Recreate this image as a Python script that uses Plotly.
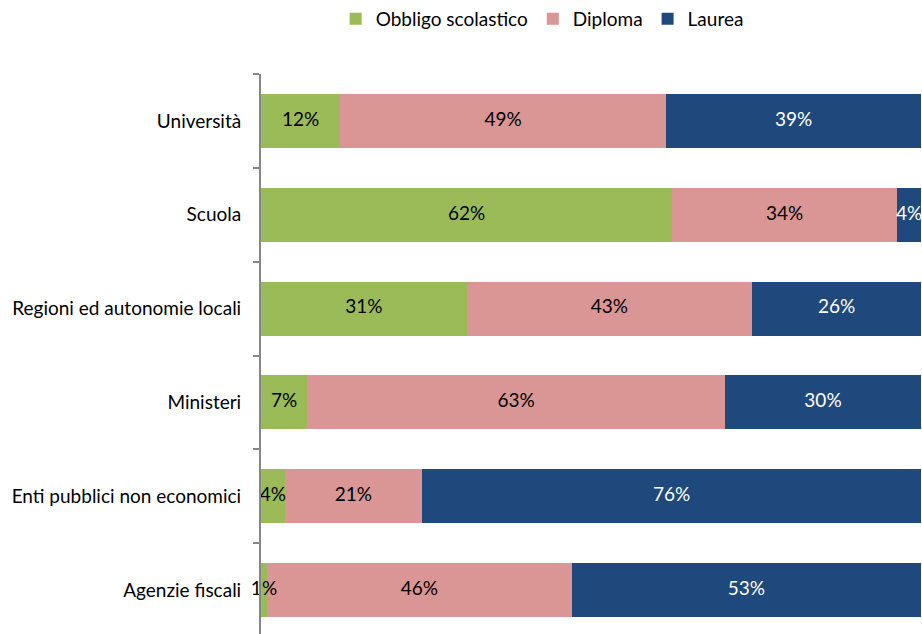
import plotly.graph_objects as go

categories = ["Università", "Scuola", "Regioni ed autonomie locali", "Ministeri",
              "Enti pubblici non economici", "Agenzie fiscali"]
obbligo = [12.0, 62.3, 31.2, 7.0, 3.6, 0.9]
diploma = [49.4, 34.1, 43.2, 63.3, 20.8, 46.2]
laurea = [38.6, 3.6, 25.6, 29.7, 75.6, 52.9]

series = [
    ("Obbligo scolastico", obbligo, "#9BBB59", "#000000"),
    ("Diploma", diploma, "#D99694", "#000000"),
    ("Laurea", laurea, "#1F497D", "#FFFFFF"),
]

FONT = "Lato"
FS = 19
fig = go.Figure()
base = [0.0] * len(categories)
label_traces = []
for name, vals, color, tcolor in series:
    fig.add_trace(go.Bar(
        name=name, y=categories, x=vals, orientation="h",
        marker=dict(color=color, line=dict(width=0)),
        width=0.575, hoverinfo="skip",
    ))
    mids = [b + v / 2 for b, v in zip(base, vals)]
    label_traces.append(go.Scatter(
        x=mids, y=categories, mode="text",
        text=[f"{v:.0f}%" for v in vals],
        textposition="middle center",
        textfont=dict(color=tcolor, size=FS, family=FONT),
        showlegend=False, hoverinfo="skip", cliponaxis=False,
    ))
    base = [b + v for b, v in zip(base, vals)]
for t in label_traces:
    fig.add_trace(t)

fig.update_layout(
    barmode="stack",
    width=922, height=634,
    margin=dict(l=261, r=1, t=74, b=0),
    plot_bgcolor="white", paper_bgcolor="white",
    font=dict(family=FONT, size=FS, color="#000000"),
    legend=dict(orientation="h", xref="container", yref="container",
                x=0.588, xanchor="center", y=1.0, yanchor="top",
                font=dict(size=FS, family=FONT), traceorder="normal"),
    xaxis=dict(range=[0, 100], visible=False, fixedrange=True),
    yaxis=dict(type="category", categoryorder="array", categoryarray=categories,
               range=[5.468, -0.5], showline=True, linecolor="#868686", linewidth=2,
               ticks="outside", tickson="boundaries", ticklen=6, tickcolor="#868686",
               tickwidth=2, showgrid=False, ticklabelstandoff=14, fixedrange=True),
)
fig.write_html("out.html", config={"displayModeBar": False},
               post_script="document.body.style.margin='0';")
